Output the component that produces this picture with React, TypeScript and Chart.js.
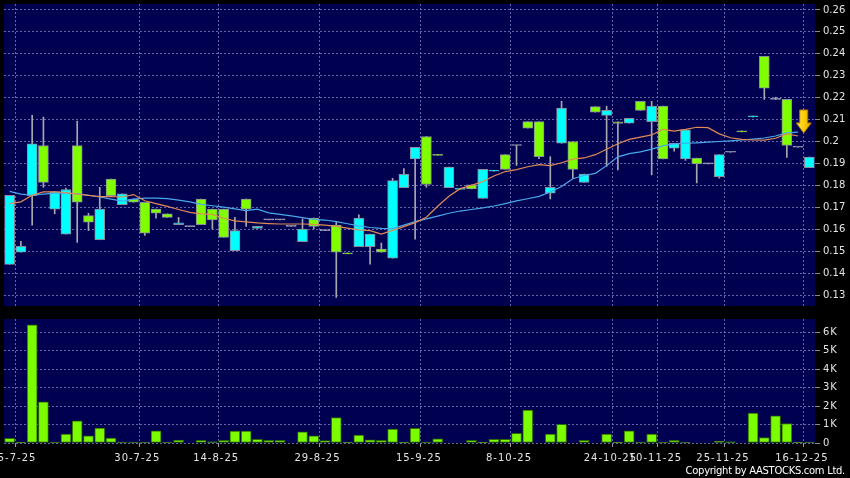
import React, { useEffect, useRef } from 'react';
import { Chart, registerables } from 'chart.js';

Chart.register(...registerables);

// ---- data (72 sessions) ----
const opens = [
  0.1440, 0.1495, 0.1753, 0.1982, 0.1692, 0.1578, 0.1982, 0.1662, 0.1552, 0.1829,
  0.1712, 0.1738, 0.1723, 0.1692, 0.1670, 0.1621, 0.1612, 0.1738, 0.1692, 0.1692,
  0.1502, 0.1738, 0.1604, 0.1643, 0.1643, 0.1613, 0.1543, 0.1651, 0.1594, 0.1619,
  0.1492, 0.1521, 0.1521, 0.1510, 0.1468, 0.1789, 0.1921, 0.2023, 0.1941, 0.1789,
  0.1782, 0.1802, 0.1741, 0.1865, 0.1940, 0.1982, 0.2091, 0.2091, 0.1764, 0.1992,
  0.2000, 0.1814, 0.2159, 0.2119, 0.2090, 0.2084, 0.2183, 0.2091, 0.2161, 0.1970,
  0.1921, 0.1924, 0.1898, 0.1840, 0.1951, 0.2048, 0.2112, 0.2388, 0.2192, 0.2192,
  0.1974, 0.1881,
];
const highs = [
  0.1755, 0.1545, 0.2119, 0.2111, 0.1772, 0.1788, 0.2093, 0.1673, 0.1791, 0.1829,
  0.1761, 0.1738, 0.1723, 0.1692, 0.1670, 0.1654, 0.1612, 0.1738, 0.1692, 0.1692,
  0.1654, 0.1738, 0.1613, 0.1643, 0.1643, 0.1613, 0.1647, 0.1651, 0.1594, 0.1636,
  0.1492, 0.1666, 0.1578, 0.1537, 0.1832, 0.1877, 0.1974, 0.2023, 0.1941, 0.1883,
  0.1786, 0.1802, 0.1873, 0.1869, 0.1940, 0.1982, 0.2091, 0.2091, 0.1931, 0.2184,
  0.2000, 0.1852, 0.2159, 0.2161, 0.2090, 0.2106, 0.2183, 0.2183, 0.2161, 0.1992,
  0.2053, 0.1924, 0.1898, 0.1940, 0.1951, 0.2048, 0.2116, 0.2388, 0.2202, 0.2192,
  0.1974, 0.1929,
];
const lows = [
  0.1440, 0.1495, 0.1619, 0.1791, 0.1670, 0.1578, 0.1540, 0.1594, 0.1552, 0.1753,
  0.1712, 0.1723, 0.1572, 0.1650, 0.1654, 0.1621, 0.1612, 0.1621, 0.1601, 0.1563,
  0.1502, 0.1613, 0.1604, 0.1643, 0.1643, 0.1613, 0.1543, 0.1601, 0.1594, 0.1289,
  0.1488, 0.1521, 0.1441, 0.1495, 0.1468, 0.1789, 0.1555, 0.1791, 0.1937, 0.1789,
  0.1782, 0.1784, 0.1741, 0.1865, 0.1873, 0.1891, 0.2061, 0.1922, 0.1738, 0.1992,
  0.1832, 0.1814, 0.2134, 0.1887, 0.1870, 0.2084, 0.2142, 0.1848, 0.1921, 0.1956,
  0.1914, 0.1811, 0.1898, 0.1833, 0.1951, 0.2044, 0.2112, 0.2192, 0.2192, 0.1927,
  0.1974, 0.1881,
];
const closes = [
  0.1755, 0.1522, 0.1989, 0.1814, 0.1772, 0.1781, 0.1723, 0.1632, 0.1692, 0.1753,
  0.1761, 0.1723, 0.1582, 0.1673, 0.1654, 0.1629, 0.1612, 0.1621, 0.1643, 0.1563,
  0.1594, 0.1692, 0.1613, 0.1643, 0.1643, 0.1613, 0.1601, 0.1613, 0.1594, 0.1495,
  0.1488, 0.1651, 0.1578, 0.1495, 0.1822, 0.1850, 0.1974, 0.1804, 0.1937, 0.1883,
  0.1786, 0.1784, 0.1873, 0.1869, 0.1873, 0.1982, 0.2061, 0.1931, 0.1791, 0.2152,
  0.1873, 0.1852, 0.2134, 0.2142, 0.2083, 0.2106, 0.2142, 0.2161, 0.1921, 0.1992,
  0.2053, 0.1898, 0.1898, 0.1940, 0.1951, 0.2044, 0.2116, 0.2243, 0.2192, 0.1982,
  0.1974, 0.1929,
];
// short moving average (orange) and long moving average (blue)
const maShort = [
  0.1717, 0.1725, 0.1755, 0.1770, 0.1771, 0.1767, 0.1760, 0.1754, 0.1749, 0.1749,
  0.1747, 0.1758, 0.1730, 0.1717, 0.1704, 0.1690, 0.1677, 0.1670, 0.1668, 0.1650,
  0.1638, 0.1634, 0.1629, 0.1626, 0.1624, 0.1624, 0.1624, 0.1622, 0.1619, 0.1613,
  0.1605, 0.1597, 0.1594, 0.1578, 0.1595, 0.1612, 0.1630, 0.1655, 0.1705, 0.1750,
  0.1785, 0.1800, 0.1817, 0.1843, 0.1863, 0.1872, 0.1885, 0.1895, 0.1890, 0.1903,
  0.1920, 0.1925, 0.1940, 0.1965, 0.1990, 0.2010, 0.2020, 0.2030, 0.2055, 0.2047,
  0.2055, 0.2065, 0.2063, 0.2035, 0.2017, 0.2010, 0.2007, 0.2006, 0.2015, 0.2035,
  0.2025, null,
];
const maLong = [
  0.1773, 0.1760, 0.1755, 0.1760, 0.1765, 0.1764, 0.1762, 0.1755, 0.1747, 0.1737,
  0.1728, 0.1737, 0.1742, 0.1742, 0.1740, 0.1733, 0.1725, 0.1713, 0.1707, 0.1701,
  0.1693, 0.1685, 0.1692, 0.1675, 0.1668, 0.1661, 0.1653, 0.1645, 0.1642, 0.1635,
  0.1625, 0.1615, 0.1608, 0.1604, 0.1603, 0.1619, 0.1635, 0.1647, 0.1660, 0.1673,
  0.1683, 0.1690, 0.1697, 0.1706, 0.1717, 0.1729, 0.1739, 0.1750, 0.1770, 0.1795,
  0.1830, 0.1845, 0.1855, 0.1890, 0.1930, 0.1945, 0.1953, 0.1965, 0.1980, 0.1989,
  0.1992, 0.1994, 0.1997, 0.2000, 0.2003, 0.2007, 0.2011, 0.2016, 0.2025, 0.2039,
  0.2043, null,
];
const volumes = [
  250, 20, 6410, 2230, 50, 490, 1200, 390, 810, 270,
  50, 50, 50, 660, 30, 160, 0, 140, 60, 140,
  650, 650, 200, 140, 140, 0, 610, 390, 130, 1380,
  40, 430, 170, 150, 750, 40, 800, 50, 220, 0,
  0, 150, 40, 200, 200, 520, 1780, 0, 490, 1020,
  0, 150, 0, 490, 40, 660, 50, 490, 50, 140,
  30, 0, 0, 90, 70, 0, 1620, 300, 1470, 1060,
  40, 50,
];
const dateTickIndex = [1, 12, 19, 28, 37, 45, 54, 58, 64, 71];
const dateTickLabel = ['15-7-25', '30-7-25', '14-8-25', '29-8-25', '15-9-25', '8-10-25', '24-10-25', '10-11-25', '25-11-25', '16-12-25'];
const priceTicks = [0.13, 0.14, 0.15, 0.16, 0.17, 0.18, 0.19, 0.2, 0.21, 0.22, 0.23, 0.24, 0.25, 0.26];
const volumeTicks = [0, 1000, 2000, 3000, 4000, 5000, 6000];
const arrowIndex = 70.5;
const arrowPrice = 0.2039;

// ---- styles ----
const NAVY = '#000050';
const GRID = 'rgba(120,120,185,0.85)';
const CYAN = '#00ffff';
const LIME = '#80ff00';
const DOJI = '#a4a4b8';
const EDGE = '#8a8c9a';
const WICK = '#a8a8b0';
const TEXT = '#e4e4e4';
const FONT = 'DejaVu Sans';

const categories = closes.map((_, i) => String(i + 1));

const xGridColor = (ctx: any) => (dateTickIndex.includes(ctx.index) ? GRID : 'rgba(0,0,0,0)');
const xTickColor = (ctx: any) => (dateTickIndex.includes(ctx.index) ? '#9a9a9a' : 'rgba(0,0,0,0)');

const panelBg = {
  id: 'panelBg',
  beforeDraw(chart: any) {
    const { ctx, chartArea: a } = chart;
    ctx.save();
    ctx.fillStyle = NAVY;
    ctx.fillRect(a.left, a.top, a.right - a.left, a.bottom - a.top);
    ctx.restore();
  },
};

const arrowMark = {
  id: 'arrowMark',
  afterDatasetsDraw(chart: any) {
    const { ctx } = chart;
    const xs = chart.scales.x;
    const ys = chart.scales.y;
    const cx = (xs.getPixelForValue(Math.floor(arrowIndex)) + xs.getPixelForValue(Math.ceil(arrowIndex))) / 2;
    const tip = ys.getPixelForValue(arrowPrice);
    const top = tip - 23;
    const neck = tip - 10;
    ctx.save();
    const g = ctx.createLinearGradient(cx - 7, 0, cx + 7, 0);
    g.addColorStop(0, '#ffe060');
    g.addColorStop(0.5, '#ffd000');
    g.addColorStop(1, '#e0a000');
    ctx.fillStyle = g;
    ctx.strokeStyle = '#b07800';
    ctx.lineWidth = 1;
    ctx.beginPath();
    ctx.moveTo(cx - 4, top);
    ctx.lineTo(cx + 4, top);
    ctx.lineTo(cx + 4, neck);
    ctx.lineTo(cx + 7.5, neck);
    ctx.lineTo(cx, tip);
    ctx.lineTo(cx - 7.5, neck);
    ctx.lineTo(cx - 4, neck);
    ctx.closePath();
    ctx.fill();
    ctx.stroke();
    ctx.restore();
  },
};

const spacedText = {
  id: 'spacedText',
  beforeDraw(chart: any) {
    (chart.ctx as any).letterSpacing = '1px';
  },
};

const fitRightAxis = (s: any) => {
  s.width = 35;
  s.paddingTop = 0;
  s.paddingBottom = 0;
};

export default function App() {
  const priceRef = useRef<HTMLCanvasElement | null>(null);
  const volRef = useRef<HTMLCanvasElement | null>(null);

  useEffect(() => {
    document.body.style.margin = '0';
    document.body.style.background = '#000';

    const priceChart = new Chart(priceRef.current as HTMLCanvasElement, {
      type: 'bar',
      data: {
        labels: categories,
        datasets: [
          {
            type: 'line',
            data: maShort,
            borderColor: '#e08a55',
            borderWidth: 1.2,
            pointRadius: 0,
            order: 0,
          } as any,
          {
            type: 'line',
            data: maLong,
            borderColor: '#4aa8ea',
            borderWidth: 1.2,
            pointRadius: 0,
            order: 0,
          } as any,
          {
            type: 'bar',
            data: opens.map((o, i) => [o, closes[i]]),
            backgroundColor: opens.map((o, i) => (closes[i] > o ? CYAN : closes[i] < o ? LIME : DOJI)),
            borderColor: opens.map((o, i) => (closes[i] === o ? DOJI : EDGE)),
            borderWidth: 1,
            borderSkipped: false,
            barThickness: 10,
            grouped: false,
            minBarLength: 1,
            order: 1,
          } as any,
          {
            type: 'bar',
            data: lows.map((l, i) => [l, highs[i]]),
            backgroundColor: WICK,
            borderWidth: 0,
            barThickness: 1,
            grouped: false,
            order: 2,
          } as any,
        ],
      },
      options: {
        animation: false,
        responsive: false,
        maintainAspectRatio: false,
        layout: { padding: { top: 4, left: 4, right: 0, bottom: 4 } },
        plugins: { legend: { display: false }, tooltip: { enabled: false } },
        scales: {
          x: {
            type: 'category',
            offset: true,
            grid: { offset: true, color: xGridColor, drawTicks: false, lineWidth: 1 },
            border: { display: false, dash: [2, 2] },
            ticks: { display: false },
            afterFit: (s: any) => {
              s.height = 0;
              s.paddingLeft = 0;
              s.paddingRight = 0;
            },
          },
          y: {
            type: 'linear',
            position: 'right',
            min: 0.125,
            max: 0.2627,
            grid: { color: GRID, tickColor: '#8a8a8a', tickLength: 5, lineWidth: 1 },
            border: { display: false, dash: [2, 2] },
            ticks: {
              color: TEXT,
              font: { family: FONT, size: 10 },
              padding: 3,
              callback: (v: any) => String(Math.round(Number(v) * 100) / 100),
            },
            afterBuildTicks: (s: any) => {
              s.ticks = priceTicks.map((v) => ({ value: v }));
            },
            afterFit: fitRightAxis,
          },
        },
      } as any,
      plugins: [panelBg, arrowMark],
    });

    const volChart = new Chart(volRef.current as HTMLCanvasElement, {
      type: 'bar',
      data: {
        labels: categories,
        datasets: [
          {
            data: volumes,
            backgroundColor: '#7cfc00',
            borderColor: '#2c6a00',
            borderWidth: 1,
            borderSkipped: false,
            barThickness: 10,
          } as any,
        ],
      },
      options: {
        animation: false,
        responsive: false,
        maintainAspectRatio: false,
        layout: { padding: { top: 9, left: 4, right: 0, bottom: 0 } },
        plugins: { legend: { display: false }, tooltip: { enabled: false } },
        scales: {
          x: {
            type: 'category',
            offset: true,
            grid: { offset: true, color: xGridColor, tickColor: xTickColor, tickLength: 4, lineWidth: 1 },
            border: { display: false, dash: [2, 2] },
            ticks: {
              autoSkip: false,
              maxRotation: 0,
              minRotation: 0,
              color: TEXT,
              font: { family: FONT, size: 10 },
              padding: 5,
              labelOffset: -7.5,
              callback: (_v: any, i: number) => {
                const j = dateTickIndex.indexOf(i);
                return j >= 0 ? dateTickLabel[j] : '';
              },
            },
            afterFit: (s: any) => {
              s.height = 35;
              s.paddingLeft = 0;
              s.paddingRight = 0;
            },
          },
          y: {
            type: 'linear',
            position: 'right',
            min: 0,
            max: 6730,
            grid: { color: GRID, tickColor: '#8a8a8a', tickLength: 5, lineWidth: 1 },
            border: { display: false, dash: [2, 2] },
            ticks: {
              color: TEXT,
              font: { family: FONT, size: 10 },
              padding: 3,
              callback: (v: any) => (Number(v) === 0 ? '0' : Number(v) / 1000 + 'K'),
            },
            afterBuildTicks: (s: any) => {
              s.ticks = volumeTicks.map((v) => ({ value: v }));
            },
            afterFit: fitRightAxis,
          },
        },
      } as any,
      plugins: [panelBg, spacedText],
    });

    return () => {
      priceChart.destroy();
      volChart.destroy();
    };
  }, []);

  return (
    <div style={{ position: 'fixed', left: 0, top: 0, width: 850, height: 478, background: '#000', overflow: 'hidden' }}>
      <canvas ref={priceRef} width={850} height={310} style={{ position: 'absolute', left: 0, top: 0, width: 850, height: 310 }} />
      <canvas ref={volRef} width={850} height={168} style={{ position: 'absolute', left: 0, top: 310, width: 850, height: 168 }} />
      <div
        style={{
          position: 'absolute',
          right: 5,
          top: 465,
          color: '#ffffff',
          fontFamily: FONT,
          fontSize: 10,
          lineHeight: '12px',
          letterSpacing: '-0.3px',
          whiteSpace: 'nowrap',
        }}
      >
        Copyright by AASTOCKS.com Ltd.
      </div>
    </div>
  );
}
